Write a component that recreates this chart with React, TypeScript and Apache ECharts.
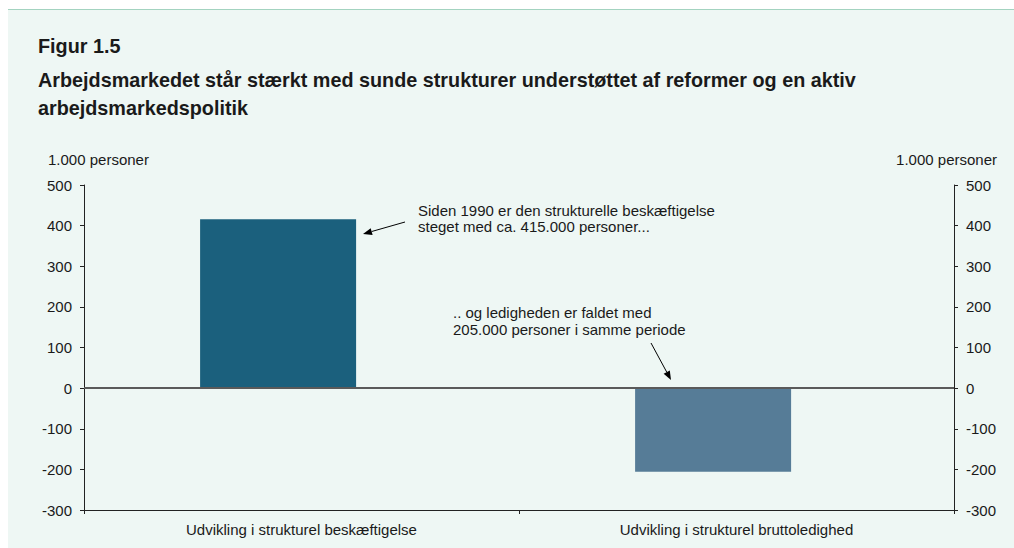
import React, { useEffect, useRef } from "react";
import * as echarts from "echarts";

const categories = ["Udvikling i strukturel beskæftigelse", "Udvikling i strukturel bruttoledighed"];
const values = [416, -206];
const barColors = ["#1B607D", "#567C97"];
const yTicks = { min: -300, max: 500, interval: 100 };
const axisUnit = "1.000 personer";
const figLabel = "Figur 1.5";
const titleLines = [
  "Arbejdsmarkedet står stærkt med sunde strukturer understøttet af reformer og en aktiv",
  "arbejdsmarkedspolitik",
];
const note1 = ["Siden 1990 er den strukturelle beskæftigelse", "steget med ca. 415.000 personer..."];
const note2 = [".. og ledigheden er faldet med", "205.000 personer i samme periode"];

const FONT = "Arial, 'Liberation Sans', Helvetica, sans-serif";
const TXT = "#1a1a1a";

function arrow(x1: number, y1: number, x2: number, y2: number) {
  const dx = x2 - x1, dy = y2 - y1;
  const len = Math.sqrt(dx * dx + dy * dy);
  const ux = dx / len, uy = dy / len;
  const hl = 9, hw = 3.5;
  const bx = x2 - ux * hl, by = y2 - uy * hl;
  return [
    { type: "line", shape: { x1, y1, x2: bx, y2: by }, style: { stroke: "#000", lineWidth: 1 }, silent: true },
    {
      type: "polygon",
      shape: { points: [[x2, y2], [bx - uy * hw, by + ux * hw], [bx + uy * hw, by - ux * hw]] },
      style: { fill: "#000" },
      silent: true,
    },
  ];
}

export default function App() {
  const ref = useRef<HTMLDivElement>(null);
  useEffect(() => {
    if (!ref.current) return;
    const chart = echarts.init(ref.current, null, { renderer: "svg" });
    const yAxisBase = {
      type: "value",
      min: yTicks.min,
      max: yTicks.max,
      interval: yTicks.interval,
      splitLine: { show: false },
      axisLine: { show: true, lineStyle: { color: "#222", width: 1 } },
      axisTick: { show: true, length: 4, lineStyle: { color: "#222" } },
      axisLabel: { color: TXT, fontSize: 15, fontFamily: FONT, margin: 12 },
    };
    chart.setOption({
      animation: false,
      backgroundColor: "#ffffff",
      grid: { left: 84, right: 60, top: 185, bottom: 38, containLabel: false },
      xAxis: {
        type: "category",
        data: categories,
        axisLine: { show: true, onZero: false, lineStyle: { color: "#222", width: 1 } },
        axisTick: { show: true, length: 4, inside: false, lineStyle: { color: "#222" } },
        axisLabel: { color: TXT, fontSize: 15, fontFamily: FONT, margin: 12 },
      },
      yAxis: [
        { ...yAxisBase, position: "left" },
        { ...yAxisBase, position: "right" },
      ],
      graphic: [
        {
          type: "rect",
          shape: { x: 8, y: 9, width: 1006, height: 539 },
          style: { fill: "#EEF7F4" },
          z: -10,
          silent: true,
        },
        {
          type: "line",
          shape: { x1: 8, y1: 9.5, x2: 1014, y2: 9.5 },
          style: { stroke: "#A3D3C0", lineWidth: 1 },
          z: -9,
          silent: true,
        },
        {
          type: "text",
          left: 38,
          top: 36,
          style: { text: figLabel, font: `bold 19.8px ${FONT}`, fill: TXT },
        },
        {
          type: "text",
          left: 38,
          top: 66,
          style: { text: titleLines.join("\n"), font: `bold 19.8px ${FONT}`, fill: TXT, lineHeight: 28 },
        },
        {
          type: "text",
          left: 48,
          top: 152,
          style: { text: axisUnit, font: `15px ${FONT}`, fill: TXT },
        },
        {
          type: "text",
          right: 17,
          top: 152,
          style: { text: axisUnit, font: `15px ${FONT}`, fill: TXT },
        },
        {
          type: "text",
          left: 418,
          top: 202,
          style: { text: note1.join("\n"), font: `15px ${FONT}`, fill: TXT, lineHeight: 16 },
        },
        {
          type: "text",
          left: 453,
          top: 304,
          style: { text: note2.join("\n"), font: `15px ${FONT}`, fill: TXT, lineHeight: 17 },
        },
        ...arrow(405, 222, 363, 234),
        ...arrow(651, 343, 671, 380),
      ],
      series: [
        {
          type: "bar",
          yAxisIndex: 0,
          barWidth: 156,
          barGap: "-70%",
          data: values.map((v, i) => ({ value: v, itemStyle: { color: barColors[i] } })),
          markLine: {
            silent: true,
            symbol: "none",
            label: { show: false },
            lineStyle: { color: "#5a5a5a", width: 2, type: "solid" },
            data: [{ yAxis: 0 }],
          },
        },
        {
          type: "bar",
          yAxisIndex: 0,
          barWidth: 156,
          data: values.map(() => null),
        },
      ],
    });
    return () => chart.dispose();
  }, []);
  return <div ref={ref} style={{ position: "absolute", left: 0, top: 0, width: 1014, height: 548 }} />;
}
